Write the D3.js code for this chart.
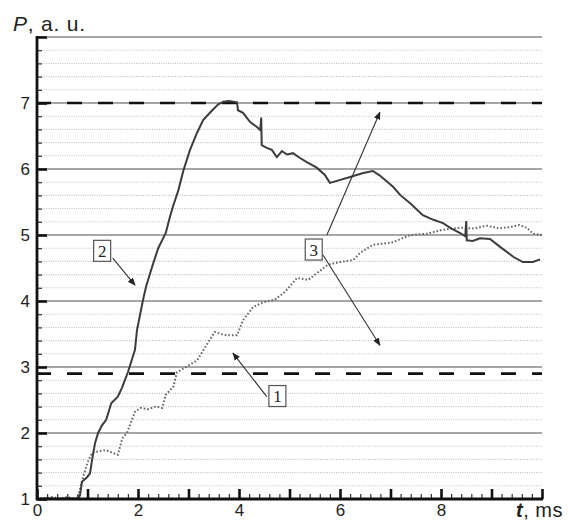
<!DOCTYPE html>
<html>
<head>
<meta charset="utf-8">
<script src="https://cdn.jsdelivr.net/npm/d3@7"></script>
<style>
  body { margin: 0; background: #fff; }
  text { font-family: "Liberation Sans", Arial, sans-serif; }
</style>
</head>
<body>
<script>
// curve 2 (solid) : [t ms, P a.u.]
var curve2 = [
  [0,1.0],[0.2,1.01],[0.4,1.0],[0.6,1.01],[0.8,1.0],[0.85,1.05],[0.89,1.26],[0.99,1.33],
  [1.05,1.39],[1.09,1.59],[1.15,1.85],[1.21,2.0],[1.29,2.12],[1.37,2.2],[1.41,2.3],[1.47,2.45],
  [1.6,2.55],[1.68,2.68],[1.74,2.8],[1.8,2.92],[1.94,3.26],[1.98,3.56],[2.1,4.02],[2.16,4.22],
  [2.28,4.52],[2.4,4.8],[2.55,5.03],[2.63,5.27],[2.7,5.45],[2.8,5.68],[2.9,5.98],[3.03,6.29],
  [3.17,6.55],[3.29,6.74],[3.47,6.89],[3.59,6.98],[3.69,7.02],[3.8,7.03],[3.96,7.01],[3.98,6.89],
  [4.08,6.85],[4.22,6.71],[4.35,6.64],[4.42,6.59],[4.44,6.78],[4.45,6.36],[4.55,6.32],[4.65,6.29],
  [4.75,6.18],[4.85,6.27],[4.95,6.22],[5.07,6.24],[5.2,6.17],[5.35,6.1],[5.54,6.02],[5.7,5.91],
  [5.8,5.79],[5.94,5.82],[6.2,5.88],[6.46,5.94],[6.65,5.97],[6.79,5.9],[7.05,5.73],[7.2,5.6],
  [7.39,5.48],[7.64,5.3],[7.85,5.23],[8.04,5.18],[8.2,5.1],[8.38,5.03],[8.48,4.98],[8.5,5.21],
  [8.51,4.92],[8.63,4.91],[8.77,4.95],[8.97,4.94],[9.17,4.82],[9.43,4.67],[9.62,4.59],[9.82,4.59],
  [9.96,4.63]
];

// curve 1 (dotted)
var curve1 = [
  [0,1.02],[0.15,1.0],[0.3,1.03],[0.45,1.01],[0.6,1.03],[0.75,1.0],[0.81,1.02],[0.9,1.3],
  [1.0,1.55],[1.09,1.7],[1.2,1.72],[1.35,1.74],[1.5,1.7],[1.6,1.67],[1.69,1.92],[1.78,2.0],
  [1.84,2.12],[1.94,2.32],[2.05,2.38],[2.2,2.36],[2.35,2.4],[2.48,2.38],[2.55,2.58],[2.7,2.7],
  [2.77,2.92],[2.95,3.0],[3.17,3.1],[3.33,3.3],[3.52,3.53],[3.65,3.5],[3.76,3.48],[3.96,3.48],
  [4.08,3.71],[4.28,3.91],[4.48,3.98],[4.71,4.02],[4.91,4.14],[5.15,4.35],[5.37,4.32],[5.54,4.42],
  [5.76,4.55],[6.0,4.59],[6.26,4.62],[6.4,4.73],[6.65,4.85],[7.05,4.89],[7.39,5.0],[7.72,5.02],
  [8.04,5.08],[8.38,5.11],[8.65,5.1],[8.91,5.14],[9.15,5.1],[9.37,5.12],[9.55,5.15],[9.7,5.11],
  [9.82,5.02],[10,5.0]
];

var refLevels = [7.0, 2.9];
var xMajor = [0,1,2,3,4,5,6,7,8,9,10];
var xLabels = [0,2,4,6,8];
var yMajor = [1,2,3,4,5,6,7,8];
var yLabels = [1,2,3,4,5,6,7];

// numbered callouts: label, box centre, arrows [from, to]
var callouts = [
  { label: "2", at: [1.29,4.76], arrows: [[[1.50,4.65],[1.94,4.24]]] },
  { label: "1", at: [4.76,2.56], arrows: [[[4.55,2.55],[3.88,3.21]]] },
  { label: "3", at: [5.48,4.78], arrows: [[[5.74,5.0],[6.79,6.86]], [[5.66,4.7],[6.79,3.33]]] }
];

function chart(){
  var width = 568, height = 521;
  var x0 = 37, x1 = 542, y0 = 499, y1 = 37;

  var x = d3.scaleLinear().domain([0,10]).range([x0,x1]);
  var y = d3.scaleLinear().domain([1,8]).range([y0,y1]);

  var svg = d3.select("body").append("svg")
    .attr("width", width)
    .attr("height", height);

  svg.append("defs").append("marker")
    .attr("id","arr")
    .attr("viewBox","0 0 10 10")
    .attr("refX",9).attr("refY",5)
    .attr("markerWidth",8).attr("markerHeight",8)
    .attr("markerUnits","userSpaceOnUse")
    .attr("orient","auto")
    .append("path").attr("d","M0,1 L10,5 L0,9 Z").attr("fill","#222");

  // minor grid (every 0.2)
  var minor = d3.range(1.2, 8, 0.2).filter(function(v){ return Math.abs(v - Math.round(v)) > 0.05; });
  svg.append("g").selectAll("line")
      .data(minor)
    .enter().append("line")
      .attr("x1", x0).attr("x2", x1)
      .attr("y1", function(d){ return y(d); })
      .attr("y2", function(d){ return y(d); })
      .style("stroke","#c2c2c2")
      .style("stroke-width",1.1)
      .style("stroke-dasharray","1,1.3");

  // major grid
  svg.append("g").selectAll("line")
      .data(yMajor.slice(1))
    .enter().append("line")
      .attr("x1", x0).attr("x2", x1)
      .attr("y1", function(d){ return y(d); })
      .attr("y2", function(d){ return y(d); })
      .style("stroke","#8a8a8a")
      .style("stroke-width",1.4);

  // dashed reference levels
  svg.append("g").selectAll("line")
      .data(refLevels)
    .enter().append("line")
      .attr("x1", x0).attr("x2", x1)
      .attr("y1", function(d){ return y(d); })
      .attr("y2", function(d){ return y(d); })
      .style("stroke","#111")
      .style("stroke-width",2.6)
      .style("stroke-dasharray","15,16")
      .style("stroke-dashoffset", 1);

  var line = d3.line()
    .x(function(d){ return x(d[0]); })
    .y(function(d){ return y(d[1]); });

  svg.append("path")
    .datum(curve1)
    .attr("d", line)
    .style("fill","none")
    .style("stroke","#666")
    .style("stroke-width",2)
    .style("stroke-dasharray","1.6,2");

  svg.append("path")
    .datum(curve2)
    .attr("d", line)
    .style("fill","none")
    .style("stroke","#3c3c3c")
    .style("stroke-width",2);

  // axes (ticks pointing inward)
  var yMinorAxis = d3.axisLeft(y).tickValues(minor).tickSize(-5).tickFormat("");
  var yAxis = d3.axisLeft(y).tickValues(yMajor).tickSize(-10)
    .tickFormat(function(d){ return yLabels.indexOf(d) >= 0 ? d : ""; });
  var xMinor = d3.range(0.2, 10, 0.2).filter(function(v){ return Math.abs(v - Math.round(v)) > 0.05; });
  var xMinorAxis = d3.axisBottom(x).tickValues(xMinor).tickSize(-5).tickFormat("");
  var xAxis = d3.axisBottom(x).tickValues(xMajor).tickSize(-10)
    .tickFormat(function(d){ return xLabels.indexOf(d) >= 0 ? d : ""; });

  svg.append("g").attr("transform","translate("+x0+",0)").call(yMinorAxis)
    .call(function(g){ g.selectAll(".tick line").style("stroke","#333").style("stroke-width",1.2); g.select(".domain").remove(); });
  svg.append("g").attr("transform","translate(0,"+y0+")").call(xMinorAxis)
    .call(function(g){ g.selectAll(".tick line").style("stroke","#333").style("stroke-width",1.2); g.select(".domain").remove(); });

  var ya = svg.append("g").attr("transform","translate("+x0+",0)").call(yAxis);
  ya.select(".domain").remove();
  ya.selectAll(".tick line").style("stroke","#111").style("stroke-width",2.6);
  ya.selectAll(".tick text").attr("x",-7).style("font-size","17px")
    .style("font-family","'Liberation Sans', Arial, sans-serif").attr("fill","#222");

  var xa = svg.append("g").attr("transform","translate(0,"+y0+")").call(xAxis);
  xa.select(".domain").remove();
  xa.selectAll(".tick line").style("stroke","#111").style("stroke-width",2.6);
  xa.selectAll(".tick text").attr("y",5).style("font-size","17px")
    .style("font-family","'Liberation Sans', Arial, sans-serif").attr("fill","#222");

  // axis lines
  svg.append("line").attr("x1",x0).attr("x2",x0).attr("y1",y1-1).attr("y2",y0+1)
    .style("stroke","#111").style("stroke-width",2.8);
  svg.append("line").attr("x1",x0-1).attr("x2",x1+1).attr("y1",y0).attr("y2",y0)
    .style("stroke","#111").style("stroke-width",2.8);

  // axis titles
  var yt = svg.append("text").attr("x",13).attr("y",31).style("font-size","21px")
    .style("letter-spacing","0.8px").attr("fill","#222");
  yt.append("tspan").style("font-style","italic").text("P");
  yt.append("tspan").text(", a. u.");

  var xt = svg.append("text").attr("x",516).attr("y",517).style("font-size","20px")
    .style("letter-spacing","0.5px").attr("fill","#222");
  xt.append("tspan").style("font-style","italic").style("font-weight","bold").text("t");
  xt.append("tspan").text(", ms");

  // callouts
  callouts.forEach(function(c){
    c.arrows.forEach(function(a){
      svg.append("line")
        .attr("x1", x(a[0][0])).attr("y1", y(a[0][1]))
        .attr("x2", x(a[1][0])).attr("y2", y(a[1][1]))
        .style("stroke","#333").style("stroke-width",1.1)
        .attr("marker-end","url(#arr)");
    });
    var cx = x(c.at[0]), cy = y(c.at[1]);
    svg.append("rect")
      .attr("x", cx-8.5).attr("y", cy-10.5)
      .attr("width",17).attr("height",21)
      .style("fill","#fff").style("stroke","#555").style("stroke-width",1.2);
    svg.append("text")
      .attr("x", cx).attr("y", cy+6)
      .style("text-anchor","middle")
      .style("font-family","'Liberation Serif', 'Times New Roman', serif")
      .style("font-size","17px")
      .attr("fill","#222")
      .text(c.label);
  });
}

window.onload = function(){ chart(); };
</script>
</body>
</html>
